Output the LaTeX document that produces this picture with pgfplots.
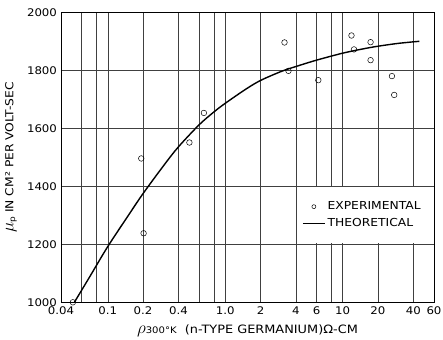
\documentclass[border=0pt]{standalone}
\usepackage{pgfplots}
\pgfplotsset{compat=1.18}
\usepackage{fontspec}
\setmainfont{DejaVu Sans}[FakeStretch=1.12]
\begin{document}
\begin{tikzpicture}
\begin{axis}[
  scale only axis,
  width=373pt, height=290pt,
  clip=false,
  xmode=log,
  xmin=0.04, xmax=60,
  ymin=1000, ymax=2000,
  log basis x=10,
  xtick={0.04,0.1,0.2,0.4,1,2,4,6,10,20,40,60},
  xticklabels={0.04,0.1,0.2,0.4,1.0,2,4,6,10,20,40,60},
  minor xtick={0.06,0.08,0.6,0.8,8},
  ytick={1000,1200,1400,1600,1800,2000},
  yticklabel style={/pgf/number format/1000 sep={}},
  /pgf/number format/assume math mode=true,
  xmajorgrids, xminorgrids, ymajorgrids,
  major grid style={black!75, line width=0.45pt},
  minor grid style={black!75, line width=0.45pt},
  major tick length=0pt, minor tick length=0pt,
  axis line style={black, line width=0.8pt},
  tick label style={font=\fontsize{10.5}{12}\selectfont},
  xticklabel style={yshift=-1pt},
  yticklabel style={xshift=-0.5pt},
  xlabel={{\LARGE$\rho$}{\fontsize{9}{10}\selectfont 300°K}\ \ (n-TYPE GERMANIUM)Ω-CM},
  xlabel style={font=\fontsize{11.5}{13}\selectfont, at={(axis description cs:0.5,-0.108)}, anchor=base},
  ylabel={{\LARGE$\mu$}{\large$_{\mathrm{p}}$} IN CM² PER VOLT-SEC},
  ylabel style={font=\fontsize{11}{13}\selectfont, at={(axis description cs:-0.134,0.5)}, anchor=center},
  legend style={at={(rel axis cs:0.638,0.301)}, anchor=west, draw=none, fill=none,
    font=\fontsize{11}{13}\selectfont, row sep=3pt},
  legend cell align=left,
]
\fill[white] (axis cs:4.1,1203) rectangle (axis cs:58,1397);
\addplot[only marks, mark=o, mark size=2.8pt, black, line width=0.5pt,
  legend image code/.code={\draw[black, line width=0.5pt] (11pt,0pt) circle (2pt);}] coordinates {
(0.0505,1000) (0.193,1496) (0.202,1238) (0.496,1551) (0.659,1653)
(3.2,1896) (3.46,1798) (6.21,1766) (11.9,1920) (12.5,1872)
(17.3,1897) (17.3,1835) (26.3,1780) (27.5,1715)
};
\addlegendentry{EXPERIMENTAL}
\addplot[black, line width=1.4pt, smooth, tension=0.5,
  legend image code/.code={\draw[black, line width=1.4pt] (0pt,0pt) -- (22pt,0pt);}] coordinates {
(0.052,1000) (0.07,1087) (0.1,1192) (0.15,1300) (0.2,1375) (0.3,1472)
(0.4,1536) (0.6,1612) (0.8,1656) (1,1686) (1.5,1735) (2,1765) (3,1796)
(4,1813) (6,1835) (10,1859) (15,1874) (20,1883) (30,1893) (45,1900)
};
\addlegendentry{THEORETICAL}
\end{axis}
\pgfresetboundingbox
\path (current axis.south west) ++(-61pt,-37.5pt);
\path (current axis.north east) ++(9pt,12.3pt);
\end{tikzpicture}
\end{document}
